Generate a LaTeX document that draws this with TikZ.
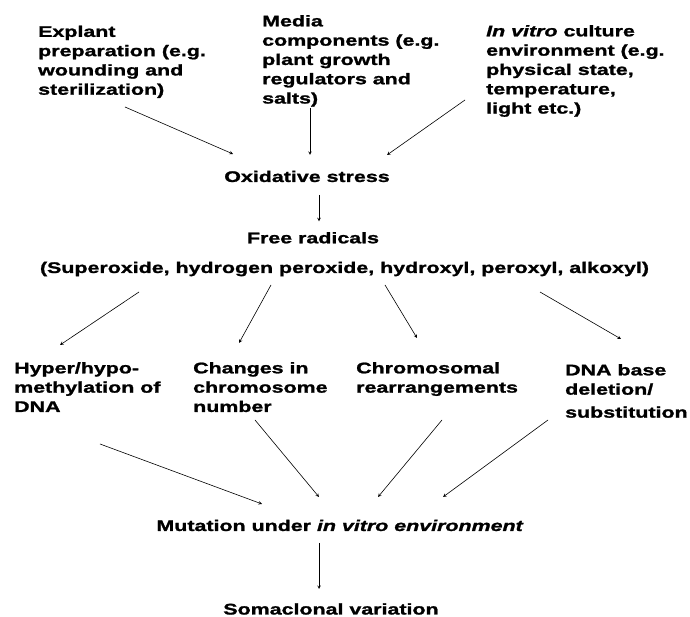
\documentclass[tikz,border=0pt]{standalone}
\usepackage{fontspec}
\setmainfont{Liberation Sans}[FakeStretch=1.39, BoldFeatures={FakeBold=1.4}, BoldItalicFeatures={FakeBold=1.4}]
\usetikzlibrary{arrows}
\tikzstyle{cause} = [align=left, anchor=north west, inner sep=0pt, font=\bfseries\fontsize{15.4pt}{19.3pt}\selectfont]
\tikzstyle{stage} = [anchor=base, inner sep=0pt, font=\bfseries\fontsize{15.4pt}{19.3pt}\selectfont]
\tikzstyle{arrow} = [line width=0.6pt,->,>=stealth]

\begin{document}
\begin{tikzpicture}[x=1pt, y=1pt]
	\useasboundingbox (0,0) rectangle (690,617);

	\node (explant) [cause] at (38,591.5) {Explant\\preparation (e.g.\\wounding and\\sterilization)};
	\node (media) [cause] at (262,602) {Media\\components (e.g.\\plant growth\\regulators and\\salts)};
	\node (invitro) [cause] at (486,592) {\textit{In vitro} culture\\environment (e.g.\\physical state,\\temperature,\\light etc.)};

	\node (oxid) [stage] at (307,435) {Oxidative stress};
	\node (free) [stage] at (313,373.7) {Free radicals};
	\node (radicals) [stage] at (344.5,344) {(Superoxide, hydrogen peroxide, hydroxyl, peroxyl, alkoxyl)};

	\node (hyper) [cause] at (14,255) {Hyper/hypo-\\methylation of\\DNA};
	\node (changes) [cause] at (193,255) {Changes in\\chromosome\\number};
	\node (chromo) [cause] at (356,255) {Chromosomal\\rearrangements};
	\node (dnabase) [cause] at (565,253) {DNA base\\deletion/\\[3.7pt]substitution};

	\node (mutation) [stage] at (340,86) {Mutation under \textit{in vitro environment}};
	\node (soma) [stage] at (331,2.5) {Somaclonal variation};

	\draw [arrow] ([shift={(87,-81.5)}]explant.north west) -- ([shift={(-74,28)}]oxid.base);
	\draw [arrow] ([shift={(48,-93)}]media.north west) -- ([shift={(3,27)}]oxid.base);
	\draw [arrow] ([shift={(-21,-75)}]invitro.north west) -- ([shift={(80,27)}]oxid.base);
	\draw [arrow] ([shift={(12,-13)}]oxid.base) -- ([shift={(6,22)}]free.base);

	\draw [arrow] ([shift={(-205.5,-19)}]radicals.base) -- ([shift={(46,17)}]hyper.north west);
	\draw [arrow] ([shift={(-73.5,-12)}]radicals.base) -- ([shift={(46,19)}]changes.north west);
	\draw [arrow] ([shift={(40.5,-12)}]radicals.base) -- ([shift={(61,24)}]chromo.north west);
	\draw [arrow] ([shift={(195.5,-19)}]radicals.base) -- ([shift={(56,25)}]dnabase.north west);

	\draw [arrow] ([shift={(86,-82)}]hyper.north west) -- ([shift={(-78,27)}]mutation.base);
	\draw [arrow] ([shift={(62,-58)}]changes.north west) -- ([shift={(-21,34)}]mutation.base);
	\draw [arrow] ([shift={(86,-58)}]chromo.north west) -- ([shift={(38,34)}]mutation.base);
	\draw [arrow] ([shift={(-17,-56)}]dnabase.north west) -- ([shift={(103,34)}]mutation.base);
	\draw [arrow] ([shift={(-21,-12)}]mutation.base) -- ([shift={(-12,25.5)}]soma.base);
\end{tikzpicture}
\end{document}
